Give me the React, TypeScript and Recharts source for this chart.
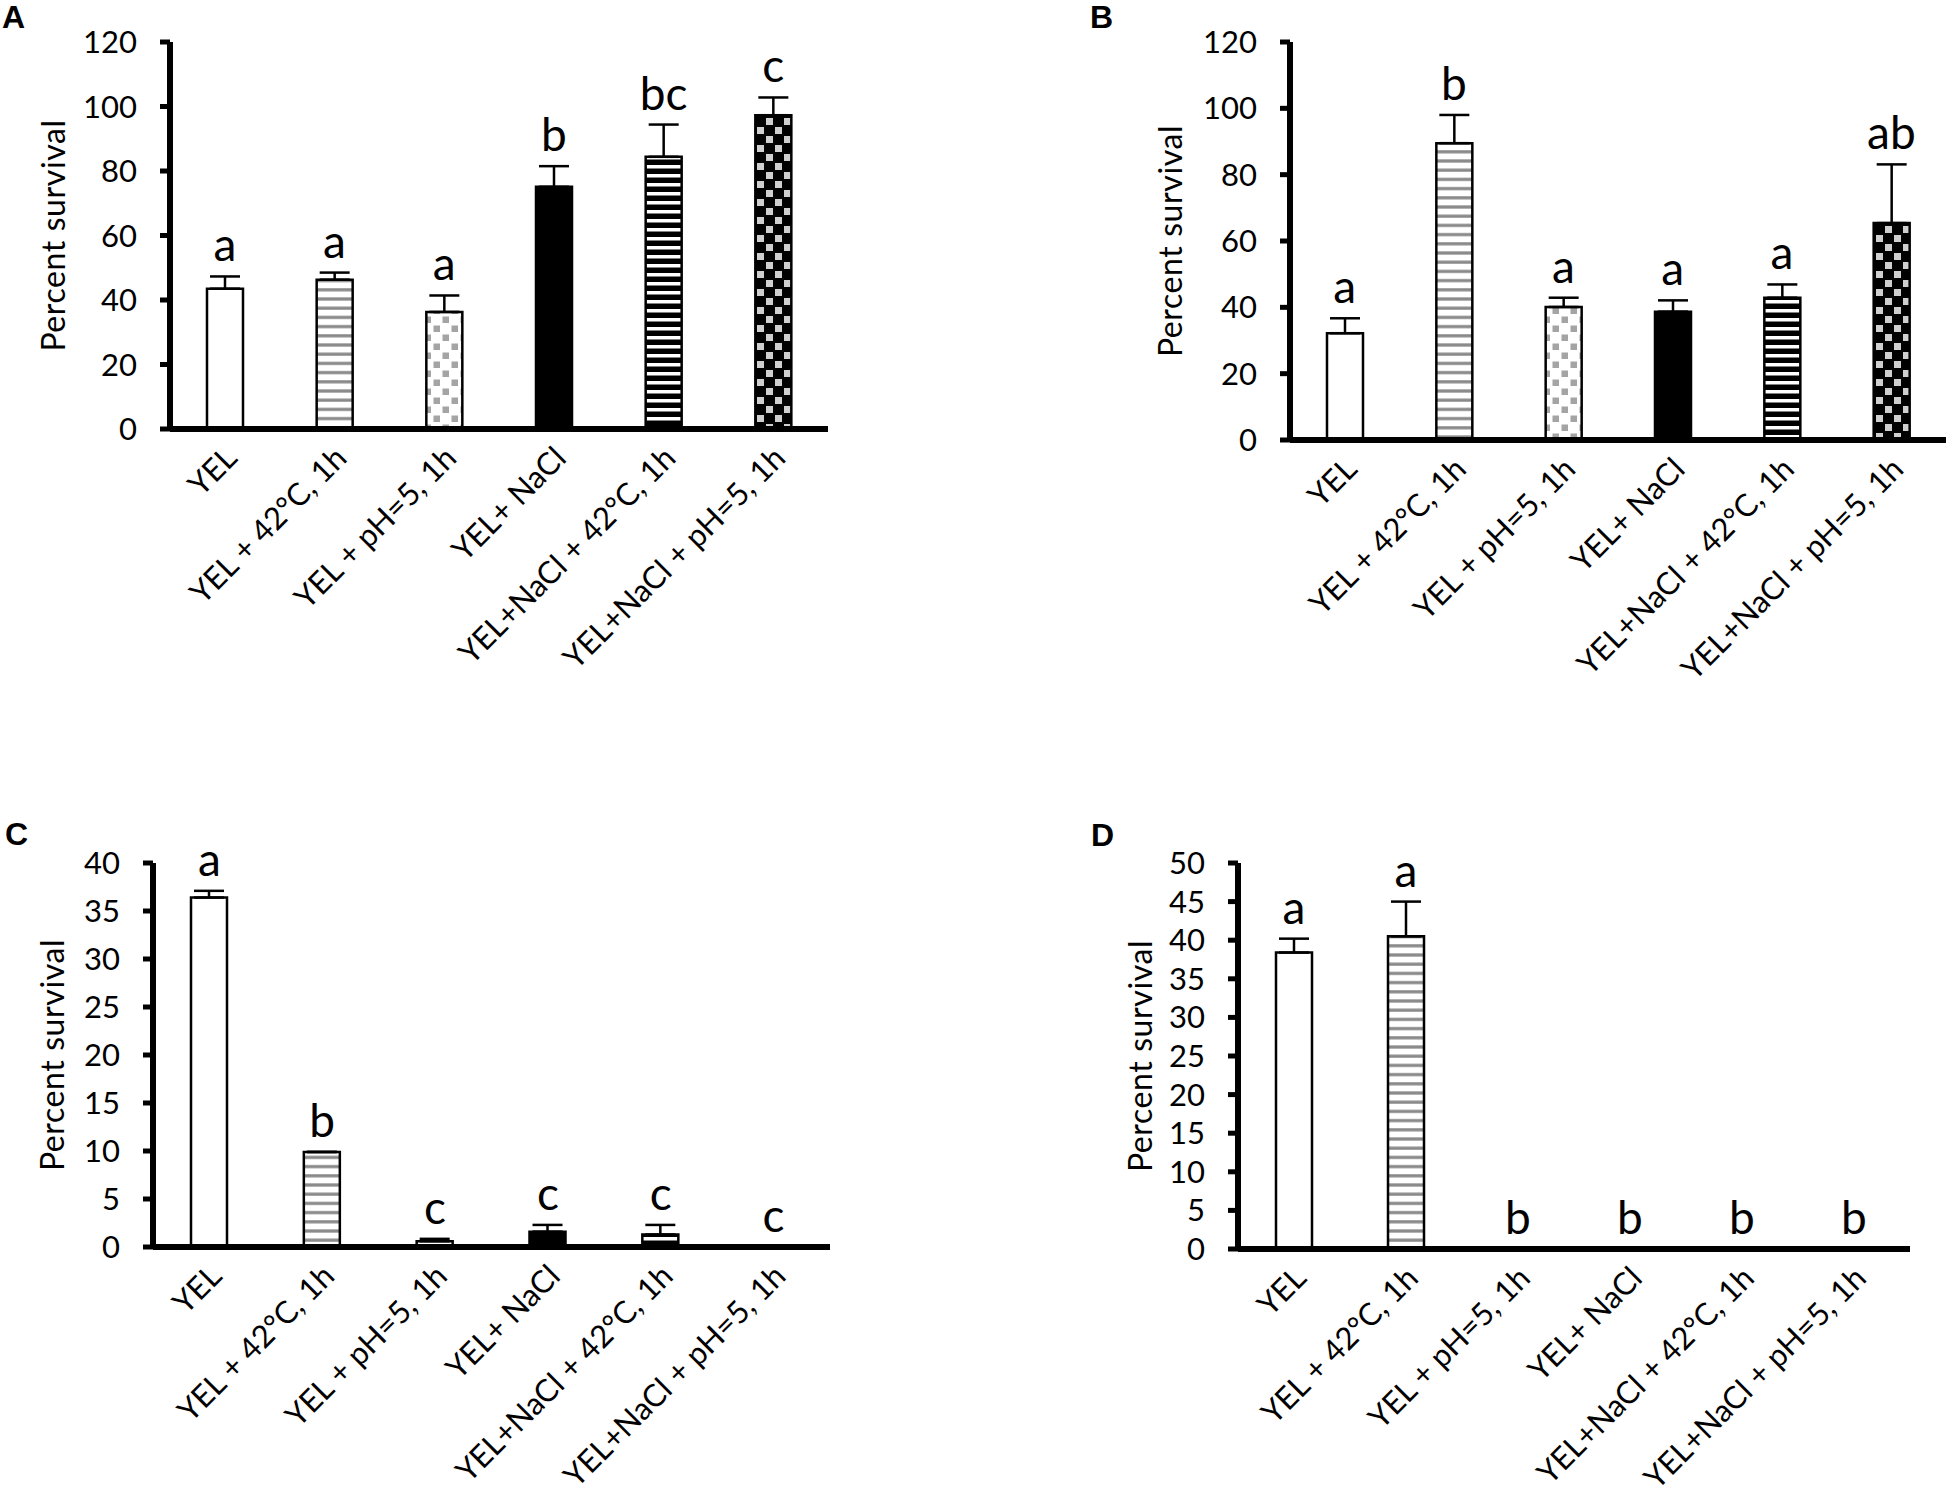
import React from 'react';
import { ComposedChart, Bar, Line, XAxis, YAxis, ErrorBar, Cell, LabelList } from 'recharts';

// ---------- data ----------
const categories = [
  'YEL',
  'YEL + 42°C, 1h',
  'YEL + pH=5, 1h',
  'YEL+ NaCl',
  'YEL+NaCl + 42°C, 1h',
  'YEL+NaCl + pH=5, 1h',
];

const valuesA = [43.5, 46.3, 36.3, 75.1, 84.4, 97.3];
const errorsA = [3.8, 2.2, 5.1, 6.4, 10.0, 5.5];
const lettersA = ['a', 'a', 'a', 'b', 'bc', 'c'];
const ticksA = [0, 20, 40, 60, 80, 100, 120];

const valuesB = [32.2, 89.5, 40.1, 38.7, 42.9, 65.4];
const errorsB = [4.5, 8.5, 2.8, 3.4, 4.0, 17.7];
const lettersB = ['a', 'b', 'a', 'a', 'a', 'ab'];
const ticksB = [0, 20, 40, 60, 80, 100, 120];

const valuesC = [36.4, 9.9, 0.6, 1.6, 1.3, 0];
const errorsC = [0.7, 0, 0.25, 0.7, 1.0, 0];
const lettersC = ['a', 'b', 'c', 'c', 'c', 'c'];
const ticksC = [0, 5, 10, 15, 20, 25, 30, 35, 40];

const valuesD = [38.4, 40.5, 0, 0, 0, 0];
const errorsD = [1.8, 4.5, 0, 0, 0, 0];
const lettersD = ['a', 'a', 'b', 'b', 'b', 'b'];
const ticksD = [0, 5, 10, 15, 20, 25, 30, 35, 40, 45, 50];

const yLabel = 'Percent survival';

// ---------- styles ----------
const barFills = [
  '#ffffff',
  'url(#stripeGray)',
  'url(#checkGray)',
  '#000000',
  'url(#stripeBlack)',
  'url(#checkBlack)',
];
const FONT = 'Lato, "Open Sans", sans-serif';

function buildRows(values: number[], errors: number[], letters: string[]) {
  return categories.map((c, i) => ({
    cat: c,
    value: values[i],
    err: [0, errors[i]],
    top: values[i] + errors[i],
    letter: letters[i],
  }));
}

const CatTick = (props: any) => {
  const { x, y, payload } = props;
  return (
    <g transform={`translate(${x + 14},${y + 31})`}>
      <text transform="rotate(-45)" textAnchor="end" fontFamily={FONT} fontSize={31} fill="#000">
        {payload.value}
      </text>
    </g>
  );
};

type PanelProps = {
  left: number;
  top: number;
  margin: { top: number; right: number; bottom: number; left: number };
  values: number[];
  errors: number[];
  letters: string[];
  ticks: number[];
  labelDist: number;
};

const Y_W = 140;

function Panel({ left, top, margin, values, errors, letters, ticks, labelDist }: PanelProps) {
  const rows = buildRows(values, errors, letters);
  const yMax = ticks[ticks.length - 1];
  return (
    <div style={{ position: 'absolute', left, top }}>
      <ComposedChart width={975} height={748} data={rows} margin={margin}>
        <XAxis
          dataKey="cat"
          type="category"
          axisLine={{ stroke: '#000', strokeWidth: 6 }}
          tickLine={false}
          tickSize={0}
          tickMargin={0}
          interval={0}
          height={10}
          tick={<CatTick />}
        />
        <YAxis
          type="number"
          domain={[0, yMax]}
          ticks={ticks}
          interval={0}
          width={Y_W}
          axisLine={{ stroke: '#000', strokeWidth: 6 }}
          tickLine={{ stroke: '#000', strokeWidth: 5 }}
          tickSize={10}
          tickMargin={23}
          tick={{ fontSize: 31, fontFamily: FONT, fill: '#000' }}
          label={{
            content: (p: any) => {
              const vb = p.viewBox || {};
              const cx = vb.x + vb.width - labelDist;
              const cy = vb.y + vb.height / 2;
              return (
                <text
                  transform={`translate(${cx},${cy}) rotate(-90)`}
                  textAnchor="middle"
                  dominantBaseline="central"
                  fontFamily={FONT}
                  fontSize={32}
                  letterSpacing={0.6}
                  fill="#000"
                >
                  {yLabel}
                </text>
              );
            },
          }}
        />
        <Bar dataKey="value" barSize={36} stroke="#000" strokeWidth={2.5} isAnimationActive={false}>
          {rows.map((r, i) => (
            <Cell key={r.cat} fill={barFills[i]} />
          ))}
          <ErrorBar dataKey="err" width={15} stroke="#000" strokeWidth={2.5} direction="y" />
        </Bar>
        <Line
          dataKey="top"
          stroke="none"
          dot={false}
          activeDot={false}
          legendType="none"
          isAnimationActive={false}
        >
          <LabelList dataKey="letter" position="top" offset={15} fill="#000" fontSize={46} fontFamily={FONT} />
        </Line>
      </ComposedChart>
    </div>
  );
}

export default function App() {
  return (
    <div style={{ position: 'absolute', left: 0, top: 0, width: 1950, height: 1496, background: '#fff', fontFamily: FONT }}>
      <svg width={1950} height={1496} style={{ position: 'absolute', left: 0, top: 0 }}>
        <defs>
          <pattern id="stripeGray" patternUnits="userSpaceOnUse" width="9.2" height="9.2">
            <rect width="9.2" height="9.2" fill="#fff" />
            <rect y="3" width="9.2" height="3.2" fill="#8a8a8a" />
          </pattern>
          <pattern id="checkGray" patternUnits="userSpaceOnUse" width="18" height="18">
            <rect width="18" height="18" fill="#fff" />
            <rect x="1.5" y="1.5" width="6.5" height="6.5" fill="#a4a4a4" />
            <rect x="10.5" y="10.5" width="6.5" height="6.5" fill="#a4a4a4" />
          </pattern>
          <pattern id="stripeBlack" patternUnits="userSpaceOnUse" width="9" height="9">
            <rect width="9" height="9" fill="#000" />
            <rect y="3" width="9" height="3.5" fill="#fff" />
          </pattern>
          <pattern id="checkBlack" patternUnits="userSpaceOnUse" width="18" height="18">
            <rect width="18" height="18" fill="#000" />
            <rect x="1" y="1" width="7" height="7" fill="#cfcfcf" />
            <rect x="10" y="10" width="7" height="7" fill="#cfcfcf" />
          </pattern>
        </defs>
        <g fontFamily='"Liberation Sans", Arial, sans-serif' fontWeight="bold" fontSize={32} fill="#000">
          <text x={2} y={28}>A</text>
          <text x={1090} y={28}>B</text>
          <text x={5} y={845}>C</text>
          <text x={1091} y={846}>D</text>
        </g>
      </svg>
      <Panel
        left={0}
        top={0}
        margin={{ top: 42, right: 147, bottom: 309, left: 170 - Y_W }}
        values={valuesA}
        errors={errorsA}
        letters={lettersA}
        ticks={ticksA}
        labelDist={118}
      />
      <Panel
        left={975}
        top={0}
        margin={{ top: 42, right: 4, bottom: 298, left: 315 - Y_W }}
        values={valuesB}
        errors={errorsB}
        letters={lettersB}
        ticks={ticksB}
        labelDist={121}
      />
      <Panel
        left={0}
        top={748}
        margin={{ top: 115, right: 145, bottom: 239, left: 153 - Y_W }}
        values={valuesC}
        errors={errorsC}
        letters={lettersC}
        ticks={ticksC}
        labelDist={102}
      />
      <Panel
        left={975}
        top={748}
        margin={{ top: 115, right: 40, bottom: 237, left: 263 - Y_W }}
        values={valuesD}
        errors={errorsD}
        letters={lettersD}
        ticks={ticksD}
        labelDist={99}
      />
    </div>
  );
}
